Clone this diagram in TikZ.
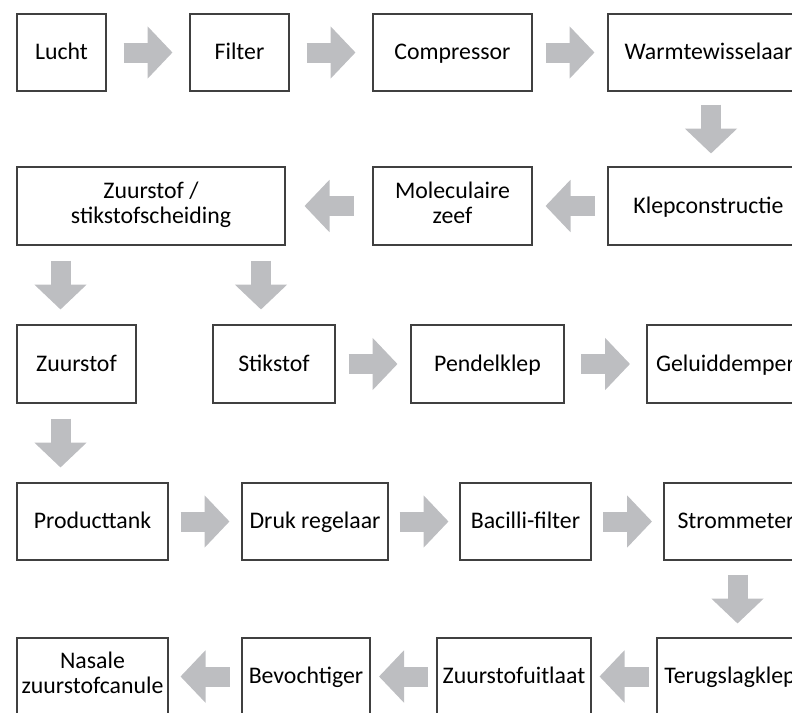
\documentclass[tikz,border=0pt]{standalone}
\usepackage{fontspec}
\setmainfont{Carlito}
\usetikzlibrary{arrows.meta,positioning,calc}

\definecolor{arrowgray}{RGB}{189,190,193}
\definecolor{boxline}{RGB}{64,64,64}

% keeps one-line labels on the same baseline
\newcommand{\boxstrut}{\rule[-7pt]{0pt}{28pt}}

% block arrow of fixed length, centred between two anchors
\newcommand{\flowarrow}[2]{%
  \path (#1) -- coordinate[midway] (mid) (#2);
  \draw [flow] ($(mid)!24.5pt!(#1)$) -- ($(mid)!24.5pt!(#2)$);
}

\begin{document}
\begin{tikzpicture}[
        font=\fontsize{23.8pt}{25pt}\selectfont,
        box/.style={rectangle, draw=boxline, line width=1.3pt, align=center,
                    inner sep=2pt, outer sep=0pt, minimum height=77pt,
                    execute at begin node=\boxstrut},
        twoline/.style={execute at begin node=\strut, execute at end node=\strut},
        flow/.style={draw=arrowgray, line width=20pt,
                     -{Triangle[length=25pt, width=51pt]}}
      ]
        \useasboundingbox (0,0) rectangle (792pt,-712pt);
        \clip (0,0) rectangle (792pt,-712pt);

        % Columns of the downward arrows
        \coordinate (c1) at (711pt,0);
        \coordinate (c2) at (60.5pt,0);
        \coordinate (c3) at (261pt,0);
        \coordinate (c4) at (737.5pt,0);

        % Row 1
        \node [box, minimum width=89pt, anchor=north west] (lucht) at (17pt,-14pt) {Lucht};
        \node [box, minimum width=99pt, right=84pt of lucht] (filter) {Filter};
        \node [box, minimum width=159pt, right=84pt of filter] (compressor) {Compressor};
        \node [box, minimum width=201pt, right=76pt of compressor] (warm) {Warmtewisselaar};

        % Row 2
        \node [box, twoline, minimum width=268pt, minimum height=78pt, anchor=north west] (scheiding) at (17pt,-167pt) {Zuurstof /\\stikstofscheiding};
        \node [box, twoline, minimum width=159pt, minimum height=78pt, right=88pt of scheiding] (zeef) {Moleculaire\\zeef};
        \node [box, minimum width=201pt, minimum height=78pt, right=76pt of zeef] (klep) {Klepconstructie};

        % Row 3
        \node [box, minimum width=119pt, minimum height=78pt, anchor=north west] (zuurstof) at (17pt,-325pt) {Zuurstof};
        \node [box, minimum width=122pt, minimum height=78pt, right=77pt of zuurstof] (stikstof) {Stikstof};
        \node [box, minimum width=153pt, minimum height=78pt, right=76pt of stikstof] (pendel) {Pendelklep};
        \node [box, minimum width=157pt, minimum height=78pt, right=83pt of pendel] (geluid) {Geluiddemper};

        % Row 4
        \node [box, minimum width=151pt, anchor=north west] (tank) at (17pt,-483pt) {Producttank};
        \node [box, minimum width=146pt, right=74pt of tank] (druk) {Druk regelaar};
        \node [box, minimum width=131pt, right=72pt of druk] (bacilli) {Bacilli-filter};
        \node [box, minimum width=144pt, right=73pt of bacilli] (strommeter) {Strommeter};

        % Row 5
        \node [box, twoline, minimum width=151pt, anchor=north west] (canule) at (17pt,-638pt) {Nasale\\zuurstofcanule};
        \node [box, minimum width=128pt, right=74pt of canule] (bevochtiger) {Bevochtiger};
        \node [box, minimum width=154pt, right=67pt of bevochtiger] (uitlaat) {Zuurstofuitlaat};
        \node [box, minimum width=146pt, right=66pt of uitlaat] (terugslag) {Terugslagklep};

        % Arrows
        \flowarrow{lucht.east}{filter.west}
        \flowarrow{filter.east}{compressor.west}
        \flowarrow{compressor.east}{warm.west}
        \flowarrow{warm.south -| c1}{klep.north -| c1}
        \flowarrow{klep.west}{zeef.east}
        \flowarrow{zeef.west}{scheiding.east}
        \flowarrow{scheiding.south -| c2}{zuurstof.north -| c2}
        \flowarrow{scheiding.south -| c3}{stikstof.north -| c3}
        \flowarrow{stikstof.east}{pendel.west}
        \flowarrow{pendel.east}{geluid.west}
        \flowarrow{zuurstof.south -| c2}{tank.north -| c2}
        \flowarrow{tank.east}{druk.west}
        \flowarrow{druk.east}{bacilli.west}
        \flowarrow{bacilli.east}{strommeter.west}
        \flowarrow{strommeter.south -| c4}{terugslag.north -| c4}
        \flowarrow{terugslag.west}{uitlaat.east}
        \flowarrow{uitlaat.west}{bevochtiger.east}
        \flowarrow{bevochtiger.west}{canule.east}
      \end{tikzpicture}
\end{document}
